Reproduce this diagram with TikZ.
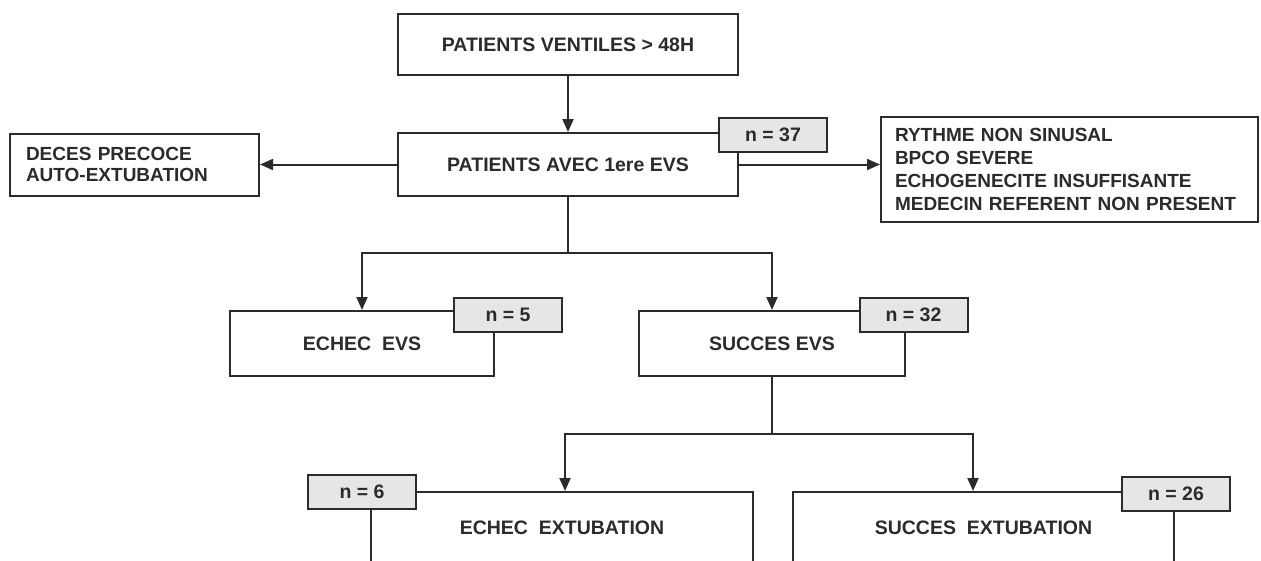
\documentclass[tikz,border=0pt]{standalone}
\usepackage{fontspec}
\setmainfont{Liberation Sans}
\usetikzlibrary{arrows.meta}
\definecolor{ink}{HTML}{2B2B2B}
\definecolor{nfill}{HTML}{E6E6E6}
\begin{document}
\begin{tikzpicture}[x=1pt,y=-1pt,
  every node/.style={font=\fontsize{19.5}{21}\selectfont\bfseries, text=ink},
  mainbox/.style={draw=ink, line width=2pt, fill=white, rectangle, inner sep=0pt, align=center},
  nbox/.style={draw=ink, line width=2pt, fill=nfill, rectangle, inner sep=0pt, minimum width=108, minimum height=34},
  listbox/.style={draw=ink, line width=2pt, fill=white, rectangle, inner ysep=0pt, align=left},
  conn/.style={draw=ink, line width=2pt},
  arr/.style={conn, -{Triangle[length=13pt,width=11pt]}}
]
\useasboundingbox (0,0) rectangle (1261,560);
\clip (0,0) rectangle (1261,560);

% main boxes
\node[mainbox, minimum width=340, minimum height=61] (top) at (568,44.5) {PATIENTS VENTILES > 48H};
\node[mainbox, minimum width=340, minimum height=63] (evs) at (568,164.5) {PATIENTS AVEC 1ere EVS};
\node[nbox] (n37) at (773,134.5) {n = 37};

\node[listbox, minimum width=249, minimum height=62, inner xsep=16pt, text width=217pt,
  font=\fontsize{19}{21}\selectfont\bfseries] (deces) at (134.5,164.5)
  {DECES PRECOCE\\AUTO-EXTUBATION};
\node[listbox, minimum width=377, minimum height=105, inner xsep=14pt, text width=349pt,
  font=\fontsize{19}{23.3}\selectfont\bfseries] (excl) at (1069.5,169.5)
  {RYTHME NON SINUSAL\\BPCO SEVERE\\ECHOGENECITE INSUFFISANTE\\MEDECIN REFERENT NON PRESENT};

\node[mainbox, minimum width=264, minimum height=65] (echecevs) at (362,343.5) {ECHEC\ \ EVS};
\node[nbox] (n5) at (508,314.5) {n = 5};
\node[mainbox, minimum width=266, minimum height=65] (succesevs) at (772,343.5) {SUCCES EVS};
\node[nbox] (n32) at (913.5,314.5) {n = 32};

\node[mainbox, minimum width=382, minimum height=72] (echecext) at (562,528) {ECHEC\ \ EXTUBATION};
\node[nbox] (n6) at (362,491.5) {n = 6};
\node[mainbox, minimum width=381, minimum height=72] (succesext) at (983.5,528) {SUCCES\ \ EXTUBATION};
\node[nbox] (n26) at (1176,493.5) {n = 26};

% junctions
\coordinate (j1) at (568,253);
\coordinate (j2) at (772,434);

% connectors
\draw[arr] (top.south) -- (evs.north);
\draw[arr] (evs.west) -- (evs.west -| deces.east);
\draw[arr] (evs.east) -- (evs.east -| excl.west);
\draw[conn] (evs.south) -- (j1);
\draw[arr] (j1) -| (echecevs.north);
\draw[arr] (j1) -| (succesevs.north);
\draw[conn] (succesevs.south) -- (j2);
\draw[arr] (j2) -| ([xshift=3pt]echecext.north);
\draw[arr] (j2) -| ([xshift=-10.5pt]succesext.north);
\end{tikzpicture}
\end{document}
